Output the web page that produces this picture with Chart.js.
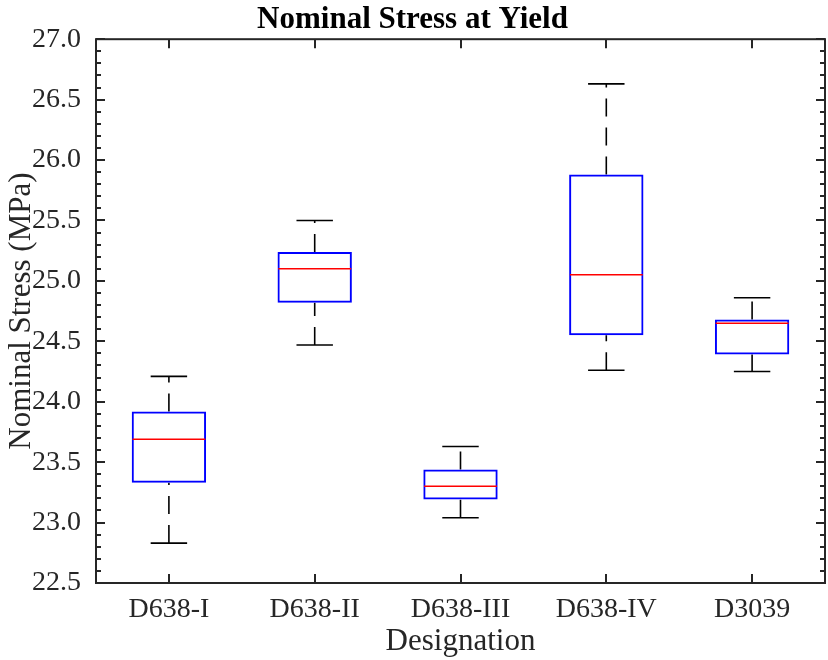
<!DOCTYPE html>
<html>
<head>
<meta charset="utf-8">
<script src="https://cdn.jsdelivr.net/npm/chart.js@4.4.1/dist/chart.umd.min.js"></script>
<style>
    html, body { margin: 0; padding: 0; background: #fff; }
    #wadah { width: 828px; height: 660px; }
</style>
</head>
<body>
<div id="wadah"><canvas id="grafikTegangan"></canvas></div>
<script>
const designations = ['D638-I', 'D638-II', 'D638-III', 'D638-IV', 'D3039'];
const lowerWhisker = [22.83, 24.47, 23.04, 24.26, 24.25];
const quartile1    = [23.33, 24.82, 23.19, 24.55, 24.39];
const medians      = [23.69, 25.10, 23.30, 25.05, 24.65];
const quartile3    = [23.92, 25.24, 23.44, 25.88, 24.68];
const upperWhisker = [24.21, 25.50, 23.63, 26.63, 24.86];
const yTickValues  = [22.5, 23.0, 23.5, 24.0, 24.5, 25.0, 25.5, 26.0, 26.5, 27.0];

const FONT = '"Liberation Serif", "Times New Roman", serif';
const AXIS_COLOR = '#262626';
const BOX_HALF = 0.25;
const CAP_HALF = 0.125;

// segmen garis terpisah dengan titik y:null sebagai pemutus
function segmen(pairs) {
    const out = [];
    pairs.forEach(p => { out.push(p[0], p[1], { x: p[0].x, y: null }); });
    return out;
}

const kotak = designations.map((d, i) => ({ x: i + 1, y: [quartile1[i], quartile3[i]] }));

const garisMedian = segmen(designations.map((d, i) => [
    { x: i + 1 - BOX_HALF, y: medians[i] },
    { x: i + 1 + BOX_HALF, y: medians[i] }
]));

// kumis digambar dari bawah ke atas
const kumis = segmen(designations.map((d, i) => [
    { x: i + 1, y: quartile3[i] },
    { x: i + 1, y: upperWhisker[i] }
]).concat(designations.map((d, i) => [
    { x: i + 1, y: lowerWhisker[i] },
    { x: i + 1, y: quartile1[i] }
])));

const tutup = segmen(designations.map((d, i) => [
    { x: i + 1 - CAP_HALF, y: upperWhisker[i] },
    { x: i + 1 + CAP_HALF, y: upperWhisker[i] }
]).concat(designations.map((d, i) => [
    { x: i + 1 - CAP_HALF, y: lowerWhisker[i] },
    { x: i + 1 + CAP_HALF, y: lowerWhisker[i] }
])));

function garis(data, color, width, dash, order) {
    return {
        type: 'line',
        data: data,
        borderColor: color,
        borderWidth: width,
        borderDash: dash,
        pointRadius: 0,
        tension: 0,
        fill: false,
        spanGaps: false,
        order: order
    };
}

// bingkai sumbu dengan tick mengarah ke dalam
const bingkaiSumbu = {
    id: 'bingkaiSumbu',
    afterDraw(chart) {
        const { ctx, chartArea: a, scales: { x, y } } = chart;
        ctx.save();
        ctx.strokeStyle = AXIS_COLOR;
        ctx.lineWidth = 2;
        ctx.beginPath();
        for (let k = 0; k <= 45; k++) {
            const py = Math.round(y.getPixelForValue(22.5 + k * 0.1));
            const len = (k % 5 === 0) ? 9 : 5;
            ctx.moveTo(a.left, py); ctx.lineTo(a.left + len, py);
            ctx.moveTo(a.right, py); ctx.lineTo(a.right - len, py);
        }
        designations.forEach((d, i) => {
            const px = Math.round(x.getPixelForValue(i + 1));
            ctx.moveTo(px, a.bottom); ctx.lineTo(px, a.bottom - 9);
            ctx.moveTo(px, a.top); ctx.lineTo(px, a.top + 9);
        });
        ctx.stroke();
        ctx.strokeRect(a.left, a.top, a.right - a.left, a.bottom - a.top);
        ctx.restore();
    }
};

const ctx = document.getElementById('grafikTegangan').getContext('2d');

new Chart(ctx, {
    type: 'bar',
    data: {
        datasets: [
            garis(garisMedian, '#ff0000', 1.5, [], 0),
            {
                type: 'bar',
                data: kotak,
                backgroundColor: 'rgba(0,0,0,0)',
                borderColor: '#0000ff',
                borderWidth: 2,
                borderSkipped: false,
                barPercentage: 0.51,
                categoryPercentage: 1.0,
                order: 1
            },
            garis(kumis, '#000000', 1.6, [18, 11], 2),
            garis(tutup, '#000000', 1.6, [], 2)
        ]
    },
    plugins: [bingkaiSumbu],
    options: {
        responsive: true,
        maintainAspectRatio: false,
        animation: false,
        layout: { padding: { top: 0, right: 3, bottom: 0, left: 0 } },
        plugins: {
            legend: { display: false },
            tooltip: { enabled: false },
            title: {
                display: true,
                text: 'Nominal Stress at Yield',
                color: '#000',
                font: { family: FONT, size: 31, weight: 'bold', lineHeight: 1.2 },
                padding: { top: 1, bottom: 1 }
            }
        },
        scales: {
            x: {
                type: 'linear',
                offset: false,
                min: 0.5,
                max: 5.5,
                afterBuildTicks: s => { s.ticks = designations.map((d, i) => ({ value: i + 1 })); },
                afterFit: s => { s.height = 77; },
                grid: { display: false, offset: false },
                border: { display: false },
                ticks: {
                    autoSkip: false,
                    maxRotation: 0,
                    padding: 2,
                    color: AXIS_COLOR,
                    font: { family: FONT, size: 28 },
                    callback: (v, i) => designations[i]
                },
                title: {
                    display: true,
                    text: 'Designation',
                    color: AXIS_COLOR,
                    font: { family: FONT, size: 31, lineHeight: 1.2 },
                    padding: { top: 0, bottom: 0 }
                }
            },
            y: {
                min: 22.5,
                max: 27,
                afterBuildTicks: s => { s.ticks = yTickValues.map(v => ({ value: v })); },
                afterFit: s => { s.width = 96; },
                grid: { display: false },
                border: { display: false },
                ticks: {
                    autoSkip: false,
                    padding: 7,
                    color: AXIS_COLOR,
                    font: { family: FONT, size: 28 },
                    callback: v => v.toFixed(1)
                },
                title: {
                    display: true,
                    text: 'Nominal Stress (MPa)',
                    color: AXIS_COLOR,
                    font: { family: FONT, size: 31, lineHeight: 1.2 },
                    padding: { top: 3, bottom: 0 }
                }
            }
        }
    }
});
</script>
</body>
</html>
